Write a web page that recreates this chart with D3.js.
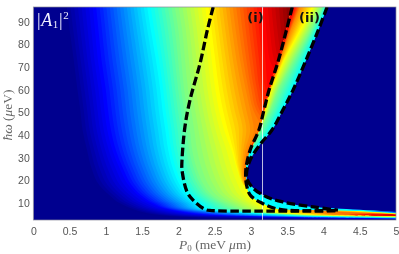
<!DOCTYPE html>
<html>
<head>
<meta charset="utf-8">
<script src="https://cdn.jsdelivr.net/npm/d3@7"></script>
<style>
  html, body { margin: 0; padding: 0; background: #fff; }
  svg { filter: blur(0.35px); }
  .tick text { font-family: "Liberation Sans", sans-serif; font-size: 10.5px; fill: #555; }
  .axisText { font-family: "Liberation Serif", serif; font-size: 13.5px; fill: #666; }
</style>
</head>
<body>
<div id="chart"></div>
<script>
var svgWidth = 399;
var svgHeight = 254;

// tick labels
var xTicks = [0, 0.5, 1, 1.5, 2, 2.5, 3, 3.5, 4, 4.5, 5];
var yTicks = [10, 20, 30, 40, 50, 60, 70, 80, 90];

// hw rows the colour contours were read at
var rowsHw = [96.5, 86.4, 73.1, 59.9, 51.1, 42.3, 33.5, 24.7, 18.1, 13.7, 10.1, 7.5, 6.2, 5.3, 4.85, 4.4, 4, 3.5, 3.1];

// colour level of each contour and the P0 where it is crossed on each row
var bodyLevels = [0, 0.125, 0.375, 0.5, 0.625, 0.75, 0.875, 1];
var bodyNavy = [.41, .45, .51, .56, .60, .63, .69, .755, .85, .99, 1.13, 1.31, 1.43, 1.55, 1.64, 1.75, 1.91, 2.30, 3.13];
var bodyBlue = [.82, .85, .89, .95, .98, 1.02, 1.09, 1.20, 1.31, 1.44, 1.61, 1.82, 2.02, 2.23, 2.41, 2.78, 3.33, 4.37, 5.5];
var bodyCyan = [1.57, 1.62, 1.69, 1.75, 1.78, 1.82, 1.86, 1.93, 2.02, 2.12, 2.26, 2.37, 2.78, 3.20, 3.44, 3.68, 4.23, 5.5, 5.5];
var bodyGreen = [1.95, 2.0, 2.04, 2.08, 2.12, 2.16, 2.19, 2.26, 2.35, 2.46, 2.64, 2.85, 3.06, 3.47, 3.68, 4.09, 5.05, 5.5, 5.5];
var bodyYellow = [2.37, 2.41, 2.46, 2.51, 2.56, 2.63, 2.73, 2.81, 2.89, 2.96, 3.10, 3.24, 3.33, 3.68, 3.95, 4.64, 5.5, 5.5, 5.5];
var bodyOrange = [2.75, 2.79, 2.85, 2.93, 2.99, 3.04, 2.95, 2.90, 2.93, 3.54, 3.68, 3.82, 3.95, 4.09, 4.30, 5.5, 5.5, 5.5, 5.5];
var bodyRed = [3.13, 3.16, 3.20, 3.24, 3.33, 4.09, 5.5, 5.5, 5.5, 5.5, 5.5, 5.5, 5.5, 5.5, 4.37, 5.5, 5.5, 5.5, 5.5];
var bodyDark = [3.54, 3.57, 3.68, 5.5, 5.5, 5.5, 5.5, 5.5, 5.5, 5.5, 5.5, 5.5, 5.5, 5.5, 5.5, 5.5, 5.5, 5.5, 5.5];

// upper edge of the tail towards P0 = 5
var tailP = [3.29, 4.2, 5];
var tailLevels = [0.125, 0.375, 0.5, 0.625, 0.75, 0.875];
var tailBlue = [10.1, 7.6, 6.2];
var tailCyan = [10.1, 7.5, 5.85];
var tailGreen = [10.1, 7.3, 5.7];
var tailYellow = [10.1, 7.05, 5.5];
var tailOrange = [10.1, 6.2, 5.3];
var tailRed = [10.1, 7.9, 5.05];

// wedge (ii) between the two right dashed curves
var wedgeHw = [96.5, 86.4, 73.1, 59.9, 51.1, 42.3, 33.5];
var wedgeLevels = [0.375, 0.5, 0.625, 0.75, 0.875];
var wedgeCyan = [4.05, 3.93, 3.76, 3.58, 3.44, 3.29, 3.04];
var wedgeGreen = [3.98, 3.83, 3.6, 3.38, 3.27, 3.13, 2.99];
var wedgeYellow = [3.86, 3.69, 3.46, 3.28, 3.2, 3.11, 2.99];
var wedgeOrange = [3.68, 3.55, 3.4, 3.25, 3.18, 3.11, 2.99];
var wedgeRed = [3.6, 3.5, 3.38, 3.25, 3.18, 3.11, 2.99];

// boundary curves
var innerP = [3.57, 3.49, 3.38, 3.25, 3.18, 3.11, 2.99, 2.93, 2.94, 2.99, 3.15, 3.40, 4.2];
var innerHw = [96.5, 86.4, 73.1, 59.9, 51.1, 42.3, 33.5, 24.7, 18.1, 13.7, 10.1, 7.3, 6.8];
var outerP = [4.05, 3.93, 3.76, 3.58, 3.44, 3.29, 3.13, 2.99, 2.94, 3.03, 3.22, 3.44, 3.86, 4.23, 5];
var outerHw = [96.5, 86.4, 73.1, 59.9, 51.1, 42.3, 36.1, 29.1, 21.6, 16.7, 12.8, 10.6, 8.4, 7.6, 6.3];
var dashOuterP = [4.05, 3.93, 3.76, 3.58, 3.44, 3.29, 3.13, 2.99, 2.94, 3.03, 3.22, 3.44, 3.86, 4.2];
var dashOuterHw = [96.5, 86.4, 73.1, 59.9, 51.1, 42.3, 36.1, 29.1, 21.6, 16.7, 12.8, 10.6, 8.4, 7];
var leftP = [2.48, 2.40, 2.30, 2.16, 2.09, 2.05, 2.05, 2.12, 2.20, 2.37, 2.46, 4.2];
var leftHw = [96.5, 86.4, 71.8, 55.5, 43.6, 29.1, 24.7, 15, 11.5, 7.3, 6.8, 6.8];
var markerP0 = 3.16;

var bodyContours = [bodyNavy, bodyBlue, bodyCyan, bodyGreen, bodyYellow, bodyOrange, bodyRed, bodyDark];
var tailContours = [tailBlue, tailCyan, tailGreen, tailYellow, tailOrange, tailRed];
var wedgeContours = [wedgeCyan, wedgeGreen, wedgeYellow, wedgeOrange, wedgeRed];

var margin = { top: 7, right: 3, bottom: 34, left: 33.3 };
var width = svgWidth - margin.left - margin.right;
var height = svgHeight - margin.top - margin.bottom;

var svg = d3.select("#chart")
  .append("svg")
  .attr("width", svgWidth)
  .attr("height", svgHeight)
  .style("display", "block");

var xScale = d3.scaleLinear().domain([0, 5]).range([0, width]);
var yScale = d3.scaleLinear().domain([2.65, 96.5]).range([height, 0]);

// jet colormap
var jet = d3.scaleLinear()
  .domain([0, 0.125, 0.375, 0.625, 0.875, 1])
  .range(["#00008f", "#0000ff", "#00ffff", "#ffff00", "#ff0000", "#800000"]);

var defs = svg.append("defs");
defs.append("clipPath").attr("id", "plotClip")
  .append("rect").attr("width", width).attr("height", height);

var lineRows = d3.line().x(d => xScale(d[0])).y(d => yScale(d[1])).curve(d3.curveMonotoneY);
var lineFlat = d3.line().x(d => xScale(d[0])).y(d => yScale(d[1]));
var lineDash = d3.line().x(d => xScale(d[0])).y(d => yScale(d[1])).curve(d3.curveCatmullRom);

var chartGroup = svg.append("g")
  .attr("transform", `translate(${margin.left}, ${margin.top})`);
var plot = chartGroup.append("g").attr("clip-path", "url(#plotClip)");

plot.append("rect").attr("width", width).attr("height", height).attr("fill", jet(0));

// steps between two neighbouring contours, gives the banded look of the original
function eachBand(levels, contours, cb) {
  for (var i = 0; i < levels.length - 1; i++) {
    var n = Math.max(1, Math.round((levels[i + 1] - levels[i]) * 64));
    for (var k = 0; k < n; k++) {
      var t = k / n;
      var vals = contours[i].map((v, j) => v + (contours[i + 1][j] - v) * t);
      cb(levels[i] + (levels[i + 1] - levels[i]) * t, vals);
    }
  }
  cb(levels[levels.length - 1], contours[contours.length - 1]);
}

// main body, everything to the right of each contour
eachBand(bodyLevels, bodyContours, function(level, vals) {
  var pts = vals.map((v, j) => [v, rowsHw[j]]);
  var d = lineRows(pts) + "L" + xScale(5.5) + "," + yScale(rowsHw[rowsHw.length - 1]) +
    "L" + xScale(5.5) + "," + yScale(rowsHw[0]) + "Z";
  plot.append("path").attr("d", d).attr("fill", jet(level));
});

// upper side of the tail, highest level first
var tailBands = [];
eachBand(tailLevels, tailContours, (level, vals) => tailBands.push([level, vals]));
tailBands.reverse().forEach(function(b) {
  var pts = b[1].map((v, j) => [tailP[j], v]);
  pts.push([5.5, b[1][2]], [5.5, 20], [tailP[0], 20]);
  plot.append("path").attr("d", lineFlat(pts) + "Z").attr("fill", jet(b[0]));
});

// empty region right of the outer curve
var outerPts = outerP.map((v, i) => [v, outerHw[i]]);
plot.append("path")
  .attr("d", lineRows(outerPts) + "L" + xScale(5.5) + "," + yScale(6.3) + "L" + xScale(5.5) + "," + yScale(96.5) + "Z")
  .attr("fill", jet(0));

// wedge (ii), clipped to the two curves
var innerPts = innerP.map((v, i) => [v, innerHw[i]]);
defs.append("clipPath").attr("id", "wedgeClip")
  .append("path")
  .attr("d", lineRows(innerPts) + "L" + lineRows(outerPts.slice().reverse()).replace(/^M/, "") + "Z");

var wedge = plot.append("g").attr("clip-path", "url(#wedgeClip)");
wedge.append("rect").attr("width", width).attr("height", height).attr("fill", jet(0.375));
eachBand(wedgeLevels, wedgeContours, function(level, vals) {
  var pts = vals.map((v, j) => [v, wedgeHw[j]]);
  pts.push([2.5, wedgeHw[6]], [2.5, wedgeHw[0]]);
  wedge.append("path").attr("d", lineFlat(pts) + "Z").attr("fill", jet(level));
});

// marker line
plot.append("line")
  .attr("x1", xScale(markerP0)).attr("x2", xScale(markerP0))
  .attr("y1", 0).attr("y2", height)
  .attr("stroke", "#fff").attr("stroke-opacity", 0.75).attr("stroke-width", 1);

// dashed curves
[[leftP, leftHw], [innerP, innerHw], [dashOuterP, dashOuterHw]].forEach(function(c) {
  plot.append("path")
    .attr("d", lineDash(c[0].map((v, i) => [v, c[1][i]])))
    .attr("fill", "none")
    .attr("stroke", "#000")
    .attr("stroke-width", 3.3)
    .attr("stroke-dasharray", "8.5,3.5");
});

chartGroup.append("rect")
  .attr("width", width).attr("height", height)
  .attr("fill", "none").attr("stroke", "#8a8a9a").attr("stroke-width", 0.7);

// axes
var bottomAxis = d3.axisBottom(xScale).tickValues(xTicks).tickFormat(d => d).tickSize(0).tickPadding(7.5);
var leftAxis = d3.axisLeft(yScale).tickValues(yTicks).tickSize(0).tickPadding(3.5);
chartGroup.append("g").attr("transform", `translate(0, ${height})`).call(bottomAxis)
  .call(g => g.select(".domain").remove());
chartGroup.append("g").call(leftAxis)
  .call(g => g.select(".domain").remove());

// labels
var xLabel = svg.append("text").attr("class", "axisText")
  .attr("x", 215).attr("y", 248.5).attr("text-anchor", "middle");
xLabel.append("tspan").attr("font-style", "italic").text("P");
xLabel.append("tspan").attr("font-size", "9px").attr("dy", 2).text("0");
xLabel.append("tspan").attr("dy", -2).text(" (meV ");
xLabel.append("tspan").attr("font-style", "italic").text("μ");
xLabel.append("tspan").text("m)");

var yLabel = svg.append("text").attr("class", "axisText")
  .attr("transform", "translate(12, 115) rotate(-90)").attr("text-anchor", "middle");
yLabel.append("tspan").attr("font-style", "italic").text("ħω");
yLabel.append("tspan").text(" (");
yLabel.append("tspan").attr("font-style", "italic").text("μ");
yLabel.append("tspan").text("eV)");

var ampLabel = svg.append("text")
  .attr("x", 37).attr("y", 26)
  .attr("font-family", "Liberation Serif, serif")
  .attr("font-size", "18px")
  .attr("letter-spacing", "0.6px")
  .attr("fill", "#eef");
ampLabel.append("tspan").text("|");
ampLabel.append("tspan").attr("font-style", "italic").text("A");
ampLabel.append("tspan").attr("font-size", "11px").attr("dy", 2).text("1");
ampLabel.append("tspan").attr("dy", -2).text("|");
ampLabel.append("tspan").attr("font-size", "11px").attr("dy", -7).text("2");

[["(i)", 255.5], ["(ii)", 309.5]].forEach(function(d) {
  svg.append("text")
    .attr("x", d[1]).attr("y", 22)
    .attr("text-anchor", "middle")
    .attr("font-family", "DejaVu Sans, sans-serif")
    .attr("font-weight", "bold")
    .attr("font-size", "13px")
    .attr("fill", "#111")
    .text(d[0]);
});
</script>
</body>
</html>
